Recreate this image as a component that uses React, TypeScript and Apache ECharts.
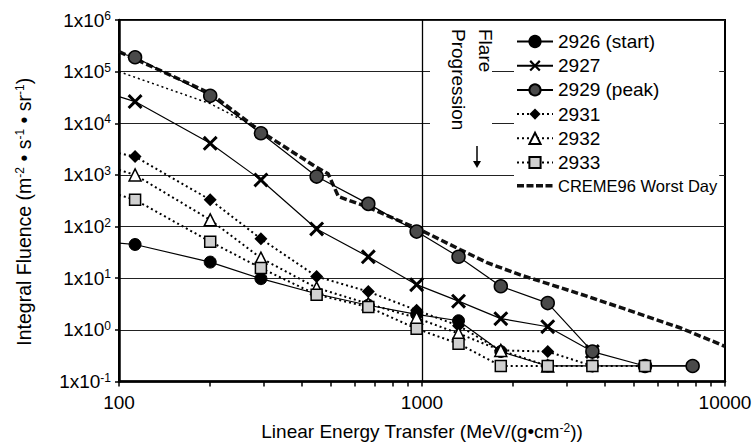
import React, { useEffect, useRef } from "react";
import * as echarts from "echarts";

// LET values (MeV/(g·cm^-2)); first entry is the line's start at the left edge (no marker)
const LET = [100, 113, 200, 294, 449, 665, 960, 1320, 1820, 2600, 3650, 5445, 7820];
const fl2926 = [48, 45, 20.5, 9.8, 5.0, 3.0, 2.0, 1.5, 0.38, 0.2, 0.2, 0.2, 0.2];
const fl2927 = [32900, 26300, 4100, 800, 90, 26, 7.5, 3.6, 1.65, 1.15, 0.38, null, null];
const fl2929 = [230000, 190000, 34000, 6400, 930, 275, 80, 26, 7, 3.3, 0.38, 0.2, 0.2];
const fl2931 = [2630, 2270, 330, 58, 10.8, 5.5, 2.4, 1.2, 0.4, 0.38, 0.2, null, null];
const fl2932 = [1250, 1000, 135, 24.5, 6.5, 3.2, 1.7, 0.85, 0.4, 0.2, null, null, null];
const fl2933 = [410, 330, 51, 15.7, 4.8, 2.77, 1.05, 0.54, 0.2, 0.2, 0.2, 0.2, null];

// unlabeled dotted trace near the top
const extraLET = [100, 200, 294];
const extraFl = [100000, 24000, 7500];

// CREME96 Worst Day
const cremeLET = [100, 200, 294, 449, 490, 530, 660, 985, 1335, 1640, 2100, 3500, 7100, 10000];
const cremeFl = [244000, 38000, 6900, 1400, 1050, 380, 240, 87, 36, 20, 11.7, 4.5, 1.1, 0.48];

const xLabelValues = [100, 1000, 10000];
const xTickValues = [100, 200, 300, 400, 500, 600, 700, 800, 900, 1000, 2000, 3000, 4000, 5000, 6000, 7000, 8000, 9000, 10000];

const FONT = "'Liberation Sans', Arial, sans-serif";
const X_SYMBOL = "path://M0,1.4L1.4,0L5,3.6L8.6,0L10,1.4L6.4,5L10,8.6L8.6,10L5,6.4L1.4,10L0,8.6L3.6,5Z";
const DASH_ICON = "path://M0,0L0,0M36,14L36,14M0,5.3H7V8.7H0ZM9.5,5.3H16.5V8.7H9.5ZM19,5.3H26V8.7H19ZM28.5,5.3H35.5V8.7H28.5Z";

function build(vals: (number | null)[]) {
  const out: any[] = [];
  vals.forEach((v, i) => {
    if (v === null) return;
    out.push(i === 0 ? { value: [LET[i], v], symbol: "none" } : { value: [LET[i], v] });
  });
  return out;
}

export default function App() {
  const ref = useRef<HTMLDivElement>(null);
  useEffect(() => {
    if (!ref.current) return;
    const chart = echarts.init(ref.current, undefined, { renderer: "svg" });
    const sup = { fontSize: 12, verticalAlign: "top", lineHeight: 20, fontFamily: FONT, color: "#000" };
    const base = { fontSize: 19, lineHeight: 20, fontFamily: FONT, color: "#000" };
    const solid = { color: "#000", width: 1.2, type: "solid" };
    const dotted = { color: "#000", width: 2, type: [2, 3] };
    chart.setOption({
      animation: false,
      backgroundColor: "#fff",
      textStyle: { fontFamily: FONT, color: "#000" },
      grid: { left: 119, right: 30, top: 20, bottom: 64, show: true, borderColor: "#000", borderWidth: 2, backgroundColor: "transparent" },
      xAxis: {
        type: "log",
        logBase: 10,
        min: 100,
        max: 10000,
        axisLine: { show: true, lineStyle: { color: "#000", width: 2.5 } },
        axisTick: { show: true, customValues: xTickValues, length: 5, lineStyle: { color: "#000", width: 1.5 } },
        axisLabel: { customValues: xLabelValues, fontSize: 19, color: "#000", margin: 11, fontFamily: FONT, formatter: (v: number) => String(v) },
        splitLine: { show: false },
        minorTick: { show: false },
        name: "Linear Energy Transfer (MeV/(g•cm{s|-2}))",
        nameLocation: "middle",
        nameGap: 40,
        nameTextStyle: { fontSize: 19, color: "#000", fontFamily: FONT, rich: { s: { ...sup } } },
      },
      yAxis: {
        type: "log",
        logBase: 10,
        min: 0.1,
        max: 1000000,
        axisLine: { show: true, lineStyle: { color: "#000", width: 2.5 } },
        axisTick: { show: true, length: 4, lineStyle: { color: "#000", width: 1.5 } },
        axisLabel: {
          margin: 8,
          formatter: (v: number) => `{b|1x10}{s|${Math.round(Math.log10(v))}}`,
          rich: { b: base, s: sup },
        },
        splitLine: { show: true, lineStyle: { color: "#222", width: 1.2 } },
        name: "Integral Fluence (m{s|-2} • s{s|-1} • sr{s|-1})",
        nameLocation: "middle",
        nameGap: 85,
        nameRotate: 90,
        nameTextStyle: { fontSize: 19.5, color: "#000", fontFamily: FONT, padding: [0, 22, 0, 0], rich: { s: { ...sup } } },
      },
      legend: {
        orient: "vertical",
        left: 514,
        top: 26,
        padding: [6, 2, 8, 2],
        backgroundColor: "#fff",
        itemWidth: 36,
        itemHeight: 14,
        itemGap: 5.2,
        textStyle: { fontSize: 19, color: "#000", fontFamily: FONT },
        data: [
          "2926 (start)",
          "2927",
          "2929 (peak)",
          "2931",
          "2932",
          "2933",
          { name: "CREME96 Worst Day", icon: DASH_ICON, textStyle: { fontSize: 16.5 } },
        ],
      },
      graphic: [
        { type: "rect", shape: { x: 430, y: 22, width: 62, height: 150 }, style: { fill: "#fff" }, z: 5 },
        { type: "text", x: 485, y: 29, rotation: -Math.PI / 2, z: 6, style: { text: "Flare", fontSize: 19, fontFamily: FONT, fill: "#000", align: "left", verticalAlign: "middle" } },
        { type: "text", x: 458, y: 29, rotation: -Math.PI / 2, z: 6, style: { text: "Progression", fontSize: 19, fontFamily: FONT, fill: "#000", align: "left", verticalAlign: "middle" } },
        { type: "line", shape: { x1: 477, y1: 146, x2: 477, y2: 164 }, style: { stroke: "#000", lineWidth: 1.5 }, z: 6 },
        { type: "polygon", shape: { points: [[473, 161], [481, 161], [477, 168]] }, style: { fill: "#000" }, z: 6 },
      ],
      series: [
        {
          name: "CREME96 Worst Day",
          type: "line",
          data: cremeLET.map((x, i) => [x, cremeFl[i]]),
          symbol: "none",
          lineStyle: { color: "#111", width: 3.5, type: [7, 3] },
          itemStyle: { color: "#111" },
          z: 2,
          markLine: {
            silent: true,
            symbol: "none",
            label: { show: false },
            lineStyle: { color: "#000", width: 1.3, type: "solid" },
            data: [{ xAxis: 1000 }],
          },
        },
        {
          name: "extra",
          type: "line",
          data: extraLET.map((x, i) => [x, extraFl[i]]),
          symbol: "none",
          lineStyle: { color: "#000", width: 1.5, type: [2, 3] },
          z: 2,
        },
        {
          name: "2926 (start)",
          type: "line",
          data: build(fl2926),
          symbol: "circle",
          symbolSize: 12,
          lineStyle: solid,
          itemStyle: { color: "#000", borderColor: "#000", borderWidth: 1 },
          z: 3,
        },
        {
          name: "2927",
          type: "line",
          data: build(fl2927),
          symbol: X_SYMBOL,
          symbolSize: 15,
          lineStyle: solid,
          itemStyle: { color: "#000" },
          z: 3,
        },
        {
          name: "2929 (peak)",
          type: "line",
          data: build(fl2929),
          symbol: "circle",
          symbolSize: 13,
          lineStyle: solid,
          itemStyle: { color: "#4a4a4a", borderColor: "#000", borderWidth: 1.5 },
          z: 3,
        },
        {
          name: "2931",
          type: "line",
          data: build(fl2931),
          symbol: "diamond",
          symbolSize: 13,
          lineStyle: dotted,
          itemStyle: { color: "#000" },
          z: 4,
        },
        {
          name: "2932",
          type: "line",
          data: build(fl2932),
          symbol: "triangle",
          symbolSize: 12,
          lineStyle: dotted,
          itemStyle: { color: "#fff", borderColor: "#000", borderWidth: 1.5 },
          z: 4,
        },
        {
          name: "2933",
          type: "line",
          data: build(fl2933),
          symbol: "rect",
          symbolSize: 11,
          lineStyle: dotted,
          itemStyle: { color: "#d0d0d0", borderColor: "#000", borderWidth: 1.5 },
          z: 4,
        },
      ],
    });
    return () => chart.dispose();
  }, []);
  return <div ref={ref} style={{ position: "absolute", left: 0, top: 0, width: 755, height: 446 }} />;
}
